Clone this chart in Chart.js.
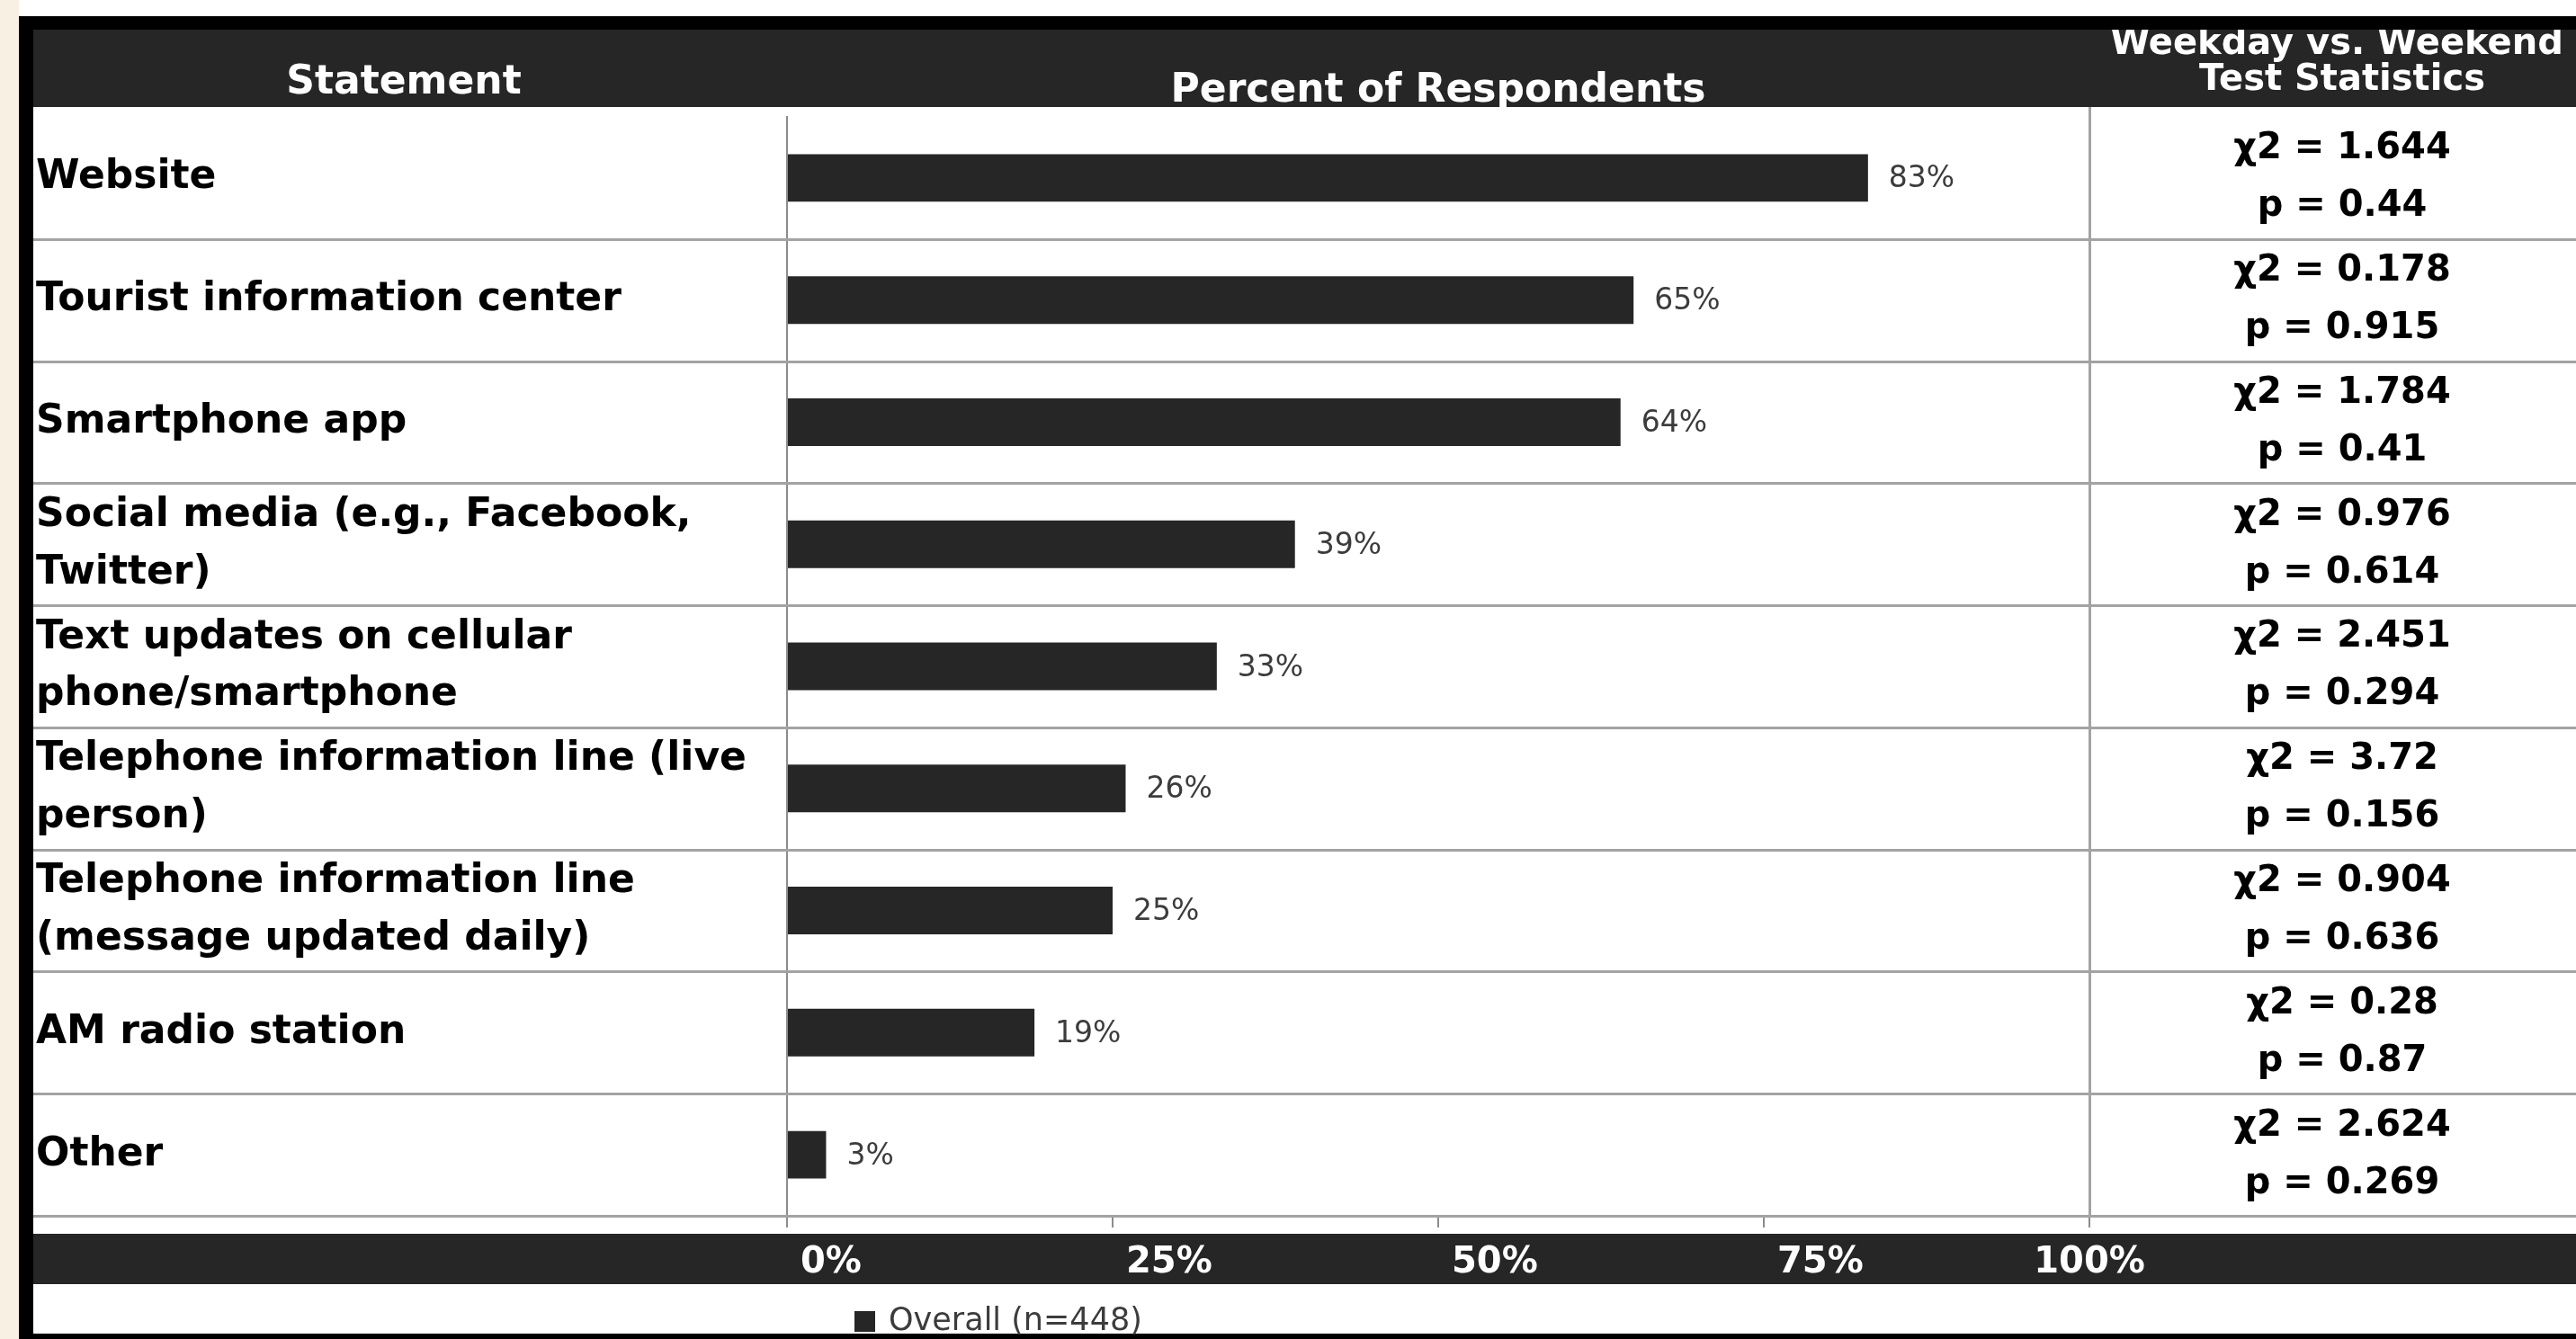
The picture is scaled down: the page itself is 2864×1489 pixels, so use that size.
<!DOCTYPE html>
<html>
<head>
<meta charset="utf-8">
<title>Percent of Respondents</title>
<script src="https://cdn.jsdelivr.net/npm/chart.js@4.4.0/dist/chart.umd.min.js"></script>
<style>
  html, body { margin: 0; padding: 0; background: #fff; overflow: hidden; }
  #wrap { position: relative; width: 2864px; height: 1489px; }
</style>
</head>
<body>
<div id="wrap"><canvas id="chart"></canvas></div>
<script>
// --- datos
const statements = [
  'Website',
  'Tourist information center',
  'Smartphone app',
  ['Social media (e.g., Facebook,', 'Twitter)'],
  ['Text updates on cellular', 'phone/smartphone'],
  ['Telephone information line (live', 'person)'],
  ['Telephone information line', '(message updated daily)'],
  'AM radio station',
  'Other'
];
const overall = [83, 65, 64, 39, 33, 26, 25, 19, 3];
const chiSquare = [1.644, 0.178, 1.784, 0.976, 2.451, 3.72, 0.904, 0.28, 2.624];
const pValues = [0.44, 0.915, 0.41, 0.614, 0.294, 0.156, 0.636, 0.87, 0.269];
const xTicks = [0, 25, 50, 75, 100];
const seriesLabel = 'Overall (n=448)';
const headStatement = 'Statement';
const headPercent = 'Percent of Respondents';
const headStats = ['Weekday vs. Weekend', 'Test Statistics'];

const FONT = '"DejaVu Sans", sans-serif';
const DARK = '#262626';
const GRID = '#a3a3a3';

// marco de la tabla: bandas, filas, textos del encabezado y estadisticos
const tablePlugin = {
  id: 'table',
  beforeDraw(chart) {
    const { ctx, width, height, chartArea: area } = chart;
    ctx.save();
    ctx.fillStyle = '#fff';
    ctx.fillRect(0, 0, width, height);
    ctx.fillStyle = '#f8f0e2';
    ctx.fillRect(0, 0, 21, height);

    // encabezado
    ctx.fillStyle = DARK;
    ctx.fillRect(37, 33, width - 37, 86);
    ctx.fillStyle = '#fff';
    ctx.textAlign = 'center';
    ctx.textBaseline = 'middle';
    ctx.font = `bold 44px ${FONT}`;
    ctx.fillText(headStatement, 449, 93);
    ctx.fillText(headPercent, (area.left + area.right) / 2, 102);
    ctx.font = `bold 40px ${FONT}`;
    ctx.fillText(headStats[0], area.right + 275, 50);
    ctx.fillText(headStats[1], area.right + 281, 90);

    // banda del eje x
    ctx.fillStyle = DARK;
    ctx.fillRect(37, area.bottom + 20, width - 37, 56);

    // borde negro
    ctx.fillStyle = '#000';
    ctx.fillRect(21, 18, width - 21, 15);
    ctx.fillRect(21, 18, 16, height - 18);
    ctx.fillRect(21, height - 6, width - 21, 6);
    ctx.restore();
  },
  beforeDatasetsDraw(chart) {
    const { ctx, width, chartArea: area, scales: { x, y } } = chart;
    const band = y.getPixelForValue(1) - y.getPixelForValue(0);
    ctx.save();
    ctx.strokeStyle = GRID;
    ctx.lineWidth = 3;
    statements.forEach((_, i) => {
      const yy = Math.round(y.getPixelForValue(i) + band / 2) + 0.5;
      ctx.beginPath();
      ctx.moveTo(37, yy);
      ctx.lineTo(width, yy);
      ctx.stroke();
    });
    // divisor de la columna de estadisticos
    const xd = Math.round(x.getPixelForValue(100)) + 0.5;
    ctx.beginPath();
    ctx.moveTo(xd, 119);
    ctx.lineTo(xd, area.bottom);
    ctx.stroke();
    ctx.restore();
  },
  afterDraw(chart) {
    const { ctx, chartArea: area, scales: { x, y } } = chart;
    const meta = chart.getDatasetMeta(0);
    ctx.save();
    ctx.textBaseline = 'middle';

    // valores al final de las barras
    ctx.fillStyle = '#3c3c3c';
    ctx.textAlign = 'left';
    ctx.font = `33px ${FONT}`;
    meta.data.forEach((bar, i) => {
      ctx.fillText(overall[i] + '%', bar.x + 23, bar.y + 2);
    });

    // chi2 y p
    ctx.fillStyle = '#000';
    ctx.textAlign = 'center';
    ctx.font = `bold 40px ${FONT}`;
    const cx = area.right + 281;
    statements.forEach((_, i) => {
      const cy = y.getPixelForValue(i);
      ctx.fillText(`χ2 = ${chiSquare[i]}`, cx, cy - 32);
      ctx.fillText(`p = ${pValues[i]}`, cx, cy + 32);
    });

    // etiquetas del eje x (blancas sobre la banda)
    ctx.fillStyle = '#fff';
    ctx.font = `bold 40px ${FONT}`;
    const last = x.ticks.length - 1;
    x.ticks.forEach((t, i) => {
      const px = x.getPixelForValue(t.value);
      if (i === last) {
        ctx.textAlign = 'center';
        ctx.fillText(t.value + '%', px, area.bottom + 53);
      } else {
        ctx.textAlign = 'left';
        ctx.fillText(t.value + '%', px + 15, area.bottom + 53);
      }
    });

    // leyenda
    const ds = chart.data.datasets[0];
    ctx.fillStyle = ds.backgroundColor;
    ctx.fillRect(area.left + 75, area.bottom + 106, 23, 23);
    ctx.fillStyle = '#3c3c3c';
    ctx.textAlign = 'left';
    ctx.font = `35px ${FONT}`;
    ctx.fillText(ds.label, area.left + 113, area.bottom + 118);
    ctx.restore();
  }
};

new Chart(document.getElementById('chart'), {
  type: 'bar',
  data: {
    labels: statements,
    datasets: [{
      label: seriesLabel,
      data: overall,
      backgroundColor: DARK,
      borderWidth: 0,
      barPercentage: 0.39,
      categoryPercentage: 1
    }]
  },
  options: {
    indexAxis: 'y',
    responsive: true,
    maintainAspectRatio: false,
    animation: false,
    layout: { padding: { top: 130, left: 40, right: 541, bottom: 0 } },
    scales: {
      x: {
        min: 0, max: 100,
        afterBuildTicks: (s) => { s.ticks = xTicks.map(value => ({ value })); },
        afterFit: (s) => { s.height = 137; },
        ticks: { display: false },
        grid: { display: true, drawOnChartArea: false, drawTicks: true, tickLength: 13, color: '#8c8c8c', lineWidth: 2 },
        border: { display: false }
      },
      y: {
        afterFit: (s) => { s.width = 835; },
        grid: { display: false },
        border: { display: true, color: '#8c8c8c', width: 2 },
        ticks: {
          autoSkip: false,
          crossAlign: 'far',
          color: '#000',
          font: { family: FONT, size: 44, weight: 'bold', lineHeight: 1.45 }
        }
      }
    },
    plugins: {
      legend: { display: false },
      tooltip: { enabled: false }
    }
  },
  plugins: [tablePlugin]
});
</script>
</body>
</html>
